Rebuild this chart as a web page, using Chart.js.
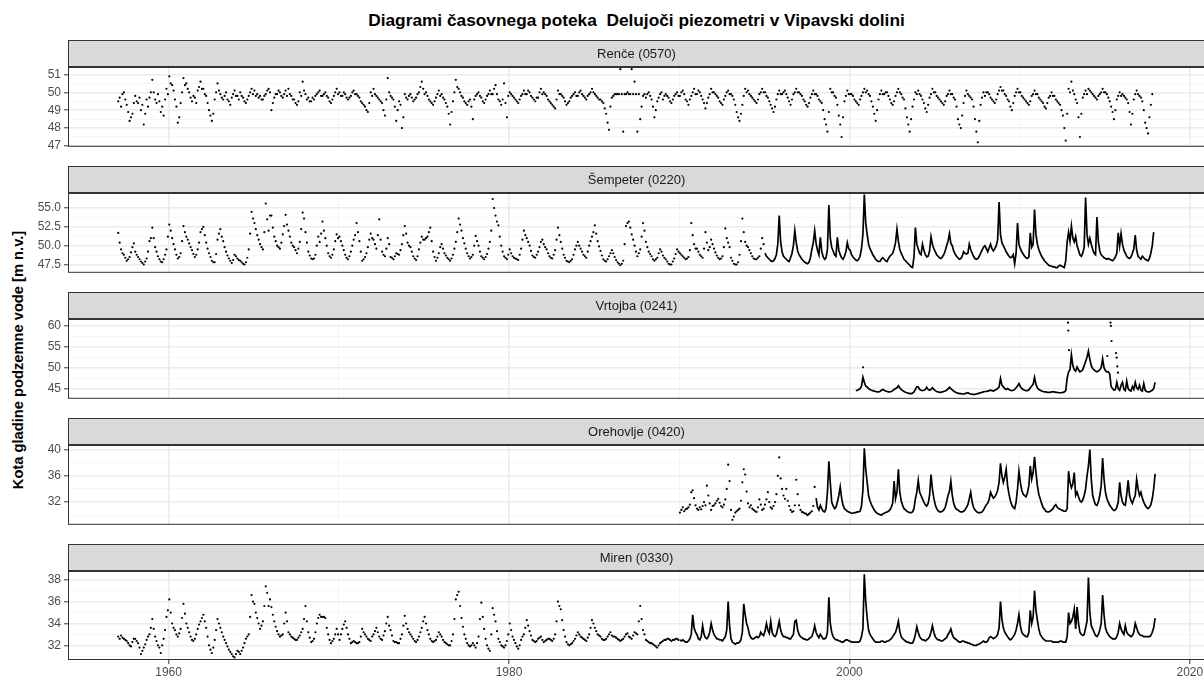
<!DOCTYPE html>
<html>
<head>
<meta charset="utf-8">
<script src="https://cdn.jsdelivr.net/npm/chart.js@4.4.0/dist/chart.umd.min.js"></script>
<style>
  html, body { margin: 0; padding: 0; background: #fff; overflow: hidden; }
  #page { position: relative; width: 1210px; height: 680px; font-family: "Liberation Sans", Arial, sans-serif; }
  #title { position: absolute; left: 68px; width: 1137px; top: 10px; line-height: 20px; text-align: center;
           font-weight: bold; font-size: 17.3px; color: #000; }
  #ylab { position: absolute; left: 18px; top: 360px; transform: translate(-50%, -50%) rotate(-90deg);
          white-space: nowrap; font-weight: bold; font-size: 14.7px; color: #000; }
  canvas { position: absolute; left: 0; }
</style>
</head>
<body>
<div id="page">
  <div id="title">Diagrami časovnega poteka&nbsp; Delujoči piezometri v Vipavski dolini</div>
  <div id="ylab">Kota gladine podzemne vode [m n.v.]</div>
</div>
<script>
// axis ticks (major); minor grid lines sit half way between them
const yearTicks = [1960, 1980, 2000, 2020];
const renceTicks = [47, 48, 49, 50, 51];
const sempeterTicks = [47.5, 50, 52.5, 55];
const vrtojbaTicks = [45, 50, 55, 60];
const orehovljeTicks = [32, 36, 40];
const mirenTicks = [32, 34, 36, 38];

// Renče: monthly readings 1957 - 2017 (drawn as points)
const renceLevels = [
  49.5, 49.7, 49.2, 49.9, 50.0, 49.6, 49.3, 48.9, 48.4, 48.6, 48.8, 49.4,
  49.8, 49.5, 49.4, 49.7, 49.0, 49.3, 48.2, 48.8, 49.6, 49.2, 49.7, 50.0,
  50.7, 50.0, 49.6, 49.4, 49.9, 49.5, 48.9, 49.2, 48.7, 49.6, 50.2, 49.9,
  50.9, 50.5, 50.4, 50.1, 49.6, 49.2, 48.3, 48.6, 49.4, 50.0, 50.8, 50.4,
  50.5, 50.2, 50.0, 49.7, 49.5, 49.8, 49.7, 49.4, 50.1, 50.3, 50.6, 50.2,
  50.2, 49.9, 49.8, 49.4, 49.0, 48.7, 48.4, 48.8, 49.6, 50.0, 50.5, 50.1,
  49.9, 49.7, 49.6, 49.8, 50.0, 49.6, 49.5, 49.3, 49.7, 49.9, 50.1, 49.8,
  49.8, 49.6, 50.0, 49.8, 49.7, 49.5, 49.4, 49.6, 49.8, 50.0, 50.2, 49.9,
  50.1, 49.8, 49.9, 49.7, 49.8, 49.6, 49.6, 49.8, 49.9, 50.1, 50.2, 50.0,
  49.0, 49.4, 49.7, 49.9, 49.9, 50.1, 50.0, 49.8, 49.7, 49.9, 50.1, 49.8,
  50.2, 49.9, 49.8, 49.6, 49.6, 49.4, 49.3, 49.5, 50.0, 49.8, 50.6, 50.1,
  49.9, 49.6, 49.7, 49.5, 49.5, 49.7, 49.6, 49.8, 49.9, 50.0, 50.1, 49.8,
  49.8, 49.9, 50.0, 49.8, 49.7, 49.5, 49.4, 49.6, 49.8, 50.0, 50.2, 49.9,
  50.0, 49.8, 49.8, 50.0, 49.9, 49.7, 49.6, 49.7, 49.8, 50.0, 50.1, 49.9,
  49.9, 49.8, 49.7, 49.5, 49.4, 49.3, 49.2, 49.0, 48.9, 49.4, 50.0, 49.8,
  50.2, 49.9, 49.8, 49.7, 49.6, 49.5, 49.4, 49.0, 48.7, 49.6, 50.8, 50.0,
  49.8, 49.7, 49.6, 49.2, 48.4, 49.0, 49.5, 49.3, 48.0, 48.6, 49.9, 49.7,
  49.6, 49.8, 49.9, 49.7, 49.5, 49.6, 49.7, 49.9, 50.0, 50.3, 50.6, 50.2,
  49.9, 50.0, 49.8, 49.6, 49.5, 49.4, 49.3, 49.5, 49.7, 49.9, 50.1, 49.8,
  49.9, 49.7, 49.6, 49.4, 49.2, 48.8, 48.2, 48.9, 49.5, 50.0, 50.7, 50.3,
  50.2, 50.0, 49.8, 49.7, 49.5, 49.4, 49.3, 49.5, 49.6, 49.2, 48.5, 49.6,
  49.8, 49.9, 50.0, 49.8, 49.7, 49.5, 49.4, 49.6, 49.8, 49.9, 50.1, 49.9,
  49.9, 50.2, 50.4, 49.9, 49.6, 49.5, 49.3, 49.6, 50.5, 49.4, 48.6, 49.8,
  50.0, 49.9, 49.8, 49.7, 49.6, 49.5, 49.4, 49.6, 49.8, 49.9, 50.1, 49.9,
  49.9, 50.1, 50.0, 49.8, 49.7, 49.6, 49.5, 49.7, 49.7, 50.0, 50.2, 49.9,
  50.0, 49.9, 49.8, 49.6, 49.5, 49.4, 49.3, 49.2, 49.1, 49.6, 50.1, 49.9,
  49.9, 49.8, 49.7, 49.5, 49.3, 49.4, 49.5, 49.7, 49.8, 49.9, 50.0, 49.8,
  49.8, 50.0, 50.1, 49.9, 49.8, 49.7, 49.6, 49.8, 49.9, 50.0, 50.2, 50.0,
  49.9, 49.8, 49.7, 49.6, 49.6, 49.5, 49.4, 49.1, 48.8, 48.3, 47.9, 49.2,
  49.7, 49.8, 49.9, 49.9, 49.9, 49.9, 51.3, 49.9, 47.8, 49.9, 49.9, 50.0,
  49.9, 49.9, 51.3, 49.9, 50.6, 49.9, 47.8, 49.9, 48.5, 49.2, 49.8, 49.9,
  49.7, 49.9, 50.0, 49.8, 49.6, 49.2, 48.6, 49.0, 49.5, 49.7, 49.9, 50.0,
  49.6, 49.8, 49.9, 49.8, 49.7, 49.5, 49.4, 49.6, 49.8, 49.9, 50.0, 49.8,
  49.8, 50.0, 50.1, 49.9, 49.6, 49.5, 49.3, 49.6, 49.8, 50.0, 50.2, 49.9,
  49.9, 50.1, 50.0, 49.8, 49.6, 49.4, 49.1, 49.4, 49.7, 49.9, 50.2, 50.0,
  50.0, 49.9, 49.8, 49.7, 49.5, 49.4, 49.3, 49.6, 49.8, 50.0, 50.1, 49.9,
  49.9, 49.8, 49.6, 49.3, 48.9, 48.6, 48.4, 48.8, 49.3, 49.8, 50.2, 50.0,
  50.1, 49.9, 49.8, 49.7, 49.6, 49.5, 49.4, 49.6, 49.9, 50.0, 50.2, 50.0,
  50.0, 49.8, 49.7, 49.5, 49.3, 49.1, 48.9, 49.2, 49.6, 49.9, 50.1, 49.9,
  49.9, 50.0, 50.1, 49.9, 49.7, 49.5, 49.3, 49.6, 49.9, 50.0, 50.2, 50.0,
  50.0, 49.9, 49.8, 49.6, 49.5, 49.3, 49.2, 49.4, 49.7, 49.9, 50.1, 49.9,
  49.9, 49.8, 49.6, 49.5, 49.4, 49.0, 48.5, 48.2, 47.8, 48.9, 50.2, 50.0,
  50.0, 49.8, 49.7, 49.3, 48.7, 48.2, 47.5, 48.6, 49.5, 49.8, 50.1, 49.9,
  49.9, 49.9, 49.8, 49.6, 49.5, 49.4, 49.3, 49.6, 49.8, 50.0, 50.2, 50.0,
  50.1, 49.9, 49.8, 49.5, 49.2, 48.8, 48.4, 49.0, 49.6, 49.9, 50.1, 49.9,
  49.9, 50.0, 50.0, 49.8, 49.6, 49.4, 49.3, 49.5, 49.8, 50.0, 50.2, 50.0,
  49.9, 49.7, 49.6, 49.1, 48.6, 48.2, 47.8, 48.5, 49.2, 49.6, 50.0, 49.9,
  50.1, 49.9, 49.8, 49.6, 49.4, 49.1, 48.9, 49.3, 49.7, 49.9, 50.2, 50.0,
  50.0, 49.8, 49.7, 49.6, 49.5, 49.4, 49.3, 49.5, 49.8, 49.9, 50.1, 49.9,
  49.9, 49.7, 49.6, 49.2, 48.5, 48.2, 48.0, 48.7, 49.4, 49.8, 50.1, 49.9,
  49.8, 49.7, 49.6, 49.2, 48.5, 47.8, 47.2, 48.4, 49.3, 49.7, 50.0, 49.8,
  50.0, 50.0, 49.9, 49.7, 49.6, 49.5, 49.4, 49.6, 49.9, 50.1, 50.3, 50.1,
  50.1, 49.9, 49.8, 49.6, 49.5, 49.2, 49.0, 49.4, 49.8, 50.0, 50.2, 50.0,
  50.0, 49.8, 49.7, 49.6, 49.5, 49.4, 49.3, 49.5, 49.8, 49.9, 50.1, 49.9,
  49.9, 49.7, 49.6, 49.5, 49.4, 49.2, 49.1, 49.4, 49.7, 49.8, 50.0, 49.8,
  49.8, 49.6, 49.5, 49.4, 49.3, 49.0, 48.7, 48.0, 47.3, 48.8, 50.2, 50.0,
  50.6, 50.1, 49.9, 49.6, 49.4, 48.6, 47.5, 48.8, 49.7, 49.9, 50.1, 49.9,
  50.2, 50.1, 50.0, 49.9, 49.8, 49.7, 49.6, 49.8, 49.9, 50.0, 50.2, 50.0,
  50.0, 49.9, 49.7, 49.5, 49.2, 48.9, 48.5, 49.0, 49.6, 49.8, 50.0, 49.8,
  49.9, 49.8, 49.7, 49.6, 49.4, 48.9, 48.2, 48.8, 49.6, 49.9, 50.1, 49.9,
  49.8, 49.7, 49.5, 49.0, 48.3, 48.0, 47.7, 48.6, 49.3, 49.9
];

// Šempeter: monthly, scattered 1957 - 1994, continuous 1995 - 2017
const sempeterDotLevels = [
  51.7, 50.4, 49.5, 49.0, 48.8, 48.4, 48.0, 48.2, 48.5, 49.1, 49.8, 50.3,
  49.2, 48.8, 48.5, 48.2, 47.9, 47.7, 47.5, 47.9, 48.3, 49.2, 50.6, 51.0,
  52.4, 51.0, 49.8, 49.2, 48.6, 48.2, 47.9, 47.8, 48.2, 48.8, 49.5, 51.2,
  52.8, 52.0, 51.0, 50.2, 49.5, 48.8, 48.3, 48.5, 49.0, 50.6, 52.6, 51.8,
  51.2, 50.8, 50.3, 49.8, 49.4, 48.9, 48.5, 48.8, 49.5, 50.4, 51.8, 52.2,
  52.5, 51.4, 50.4, 49.6, 49.0, 48.5, 48.0, 47.8, 47.8, 48.9, 50.8, 51.6,
  52.2, 51.2, 50.6, 49.8, 49.2, 48.7, 48.3, 48.0, 47.7, 48.1, 48.8, 48.6,
  48.3, 48.1, 48.0, 47.8, 47.6, 47.5, 47.8, 48.4, 49.5, 51.6, 54.5, 53.6,
  53.0, 52.2, 51.4, 50.8, 50.2, 49.8, 49.5, 51.8, 55.6, 53.5, 52.0, 54.0,
  54.0, 52.4, 51.2, 50.6, 50.0, 49.8, 49.6, 50.4, 51.5, 52.6, 54.1, 52.8,
  52.0, 51.2, 50.4, 50.0, 49.8, 49.4, 49.0, 49.6, 50.5, 52.2, 54.4, 53.6,
  51.8, 50.4, 49.2, 48.7, 48.3, 48.2, 48.3, 48.8, 50.0, 51.2, 50.5, 51.6,
  53.2, 52.0, 51.0, 50.0, 49.0, 48.6, 48.4, 48.8, 49.5, 50.6, 51.5, 51.0,
  51.2, 50.6, 50.0, 49.4, 48.8, 48.4, 48.2, 48.6, 49.2, 50.0, 50.8, 51.4,
  53.0, 51.8, 50.6, 49.2, 48.0, 48.2, 48.5, 49.0, 49.8, 50.8, 51.6, 51.0,
  50.8, 50.2, 49.6, 51.4, 53.5, 50.8, 49.2, 48.8, 48.6, 49.6, 51.0, 50.2,
  48.5, 48.4, 48.2, 48.6, 49.0, 48.9, 48.8, 49.4, 50.2, 51.4, 52.6, 51.6,
  50.4, 50.0, 49.8, 49.2, 48.6, 48.3, 48.1, 48.6, 49.5, 50.4, 51.2, 50.8,
  50.8, 51.0, 51.2, 51.8, 52.4, 50.6, 49.2, 48.5, 48.0, 48.4, 49.0, 49.8,
  50.2, 49.6, 49.0, 48.7, 48.4, 48.2, 48.0, 48.3, 48.8, 49.6, 50.5, 51.8,
  53.6, 52.8, 52.0, 51.0, 50.3, 49.6, 49.0, 48.6, 48.3, 48.5, 48.8, 50.0,
  51.3, 50.6, 50.0, 49.2, 48.6, 48.4, 48.2, 48.5, 48.9, 49.6, 50.5, 52.0,
  56.2, 55.0, 54.0, 53.2, 52.7, 51.2, 50.0, 49.2, 48.6, 48.4, 48.2, 48.8,
  49.5, 49.0, 48.6, 48.4, 48.3, 48.2, 48.1, 48.8, 49.6, 50.8, 52.0, 51.4,
  51.0, 50.5, 50.0, 49.3, 48.7, 48.5, 48.4, 48.8, 49.2, 49.8, 50.5, 50.8,
  50.2, 49.8, 49.5, 49.0, 48.6, 48.4, 48.3, 48.8, 49.4, 50.8, 52.4, 51.4,
  50.5, 49.6, 48.8, 48.4, 48.0, 47.9, 47.8, 48.0, 48.2, 48.8, 49.5, 50.0,
  50.5, 50.0, 49.6, 49.2, 48.8, 48.6, 48.4, 49.2, 50.0, 50.6, 51.2, 51.8,
  52.7, 51.6, 50.6, 49.9, 49.3, 48.7, 48.2, 48.0, 47.9, 48.2, 48.6, 49.0,
  49.4, 49.0, 48.5, 48.1, 47.8, 47.6, 47.4, 47.6, 48.0, 50.2, 52.6, 53.0,
  53.2, 52.4, 51.5, 50.8, 50.0, 49.2, 48.6, 49.0, 49.5, 51.2, 53.0, 52.0,
  50.5, 49.8, 49.2, 48.9, 48.6, 48.2, 48.0, 48.2, 48.4, 49.0, 49.5, 49.2,
  48.7, 48.4, 48.2, 47.9, 47.6, 47.5, 47.5, 47.9, 48.3, 48.9, 49.5, 49.2,
  49.0, 48.8, 48.6, 48.4, 48.2, 48.3, 48.5, 49.4, 53.0, 51.4, 50.2, 49.6,
  49.6, 49.2, 48.8, 48.6, 48.4, 49.6, 51.8, 50.4, 49.4, 49.8, 50.8, 50.2,
  49.6, 49.1, 48.7, 48.4, 48.2, 48.3, 48.6, 49.8, 52.3, 51.0, 50.4, 49.8,
  48.4, 48.0, 47.6, 47.5, 47.5, 47.8, 48.8, 50.6, 53.6, 51.8, 50.5, 50.0,
  49.8, 49.4, 49.0, 48.6, 48.3, 48.2, 48.2, 48.4, 48.6, 49.6, 51.0, 50.2
];
const sempeterLineLevels = [
  49.0, 48.6, 48.4, 48.2, 48.0, 47.9, 48.0, 48.3, 48.8, 50.2, 54.0, 50.5,
  49.2, 48.6, 48.4, 48.2, 48.0, 47.9, 48.4, 49.0, 50.0, 52.0, 50.4, 49.3,
  48.8, 48.5, 48.2, 48.0, 47.8, 47.7, 47.6, 47.8, 48.4, 49.5, 50.4, 52.0,
  50.3, 49.4, 48.8, 51.1, 49.2, 48.5, 48.2, 48.4, 49.5, 55.4, 51.0, 49.8,
  49.3, 48.8, 48.6, 51.1, 49.4, 48.8, 48.4, 48.2, 48.6, 49.2, 50.4, 49.6,
  49.4, 48.8, 48.5, 48.3, 48.1, 48.0, 48.2, 48.6, 49.6, 51.5, 56.8, 53.0,
  51.5, 50.2, 49.6, 49.2, 48.8, 48.5, 48.2, 48.0, 47.9, 47.9, 48.2, 48.4,
  48.2, 48.0, 47.9, 48.3, 48.6, 48.8, 49.0, 49.6, 50.4, 52.2, 50.6, 49.5,
  49.0, 48.6, 48.2, 48.0, 47.8, 47.6, 47.4, 47.2, 47.1, 48.5, 52.4, 50.2,
  49.6, 49.0, 48.8, 50.2, 49.4, 48.8, 48.5, 48.6, 49.3, 51.2, 50.2, 49.6,
  49.2, 48.8, 48.6, 48.4, 48.3, 48.5, 48.8, 49.3, 50.0, 50.6, 51.6, 50.3,
  50.0, 49.3, 48.9, 48.6, 48.4, 48.2, 48.3, 48.6, 49.2, 49.0, 48.9, 49.0,
  50.2, 49.5, 49.0, 48.6, 48.3, 48.2, 48.3, 48.6, 49.0, 49.4, 49.8, 50.0,
  49.6, 49.2, 49.7, 50.2, 49.6, 49.3, 49.6, 50.0, 50.8, 55.8, 51.5, 50.4,
  50.0, 49.6, 49.2, 48.9, 48.6, 48.4, 48.5, 48.8, 47.6, 49.0, 53.0, 50.2,
  49.6, 49.2, 48.9, 48.6, 48.4, 48.3, 48.5, 51.7, 49.8, 50.2, 54.8, 51.5,
  50.2, 49.5, 49.0, 48.6, 48.3, 48.0, 47.8, 47.6, 47.4, 47.3, 47.3, 47.2,
  47.2, 47.1, 47.1, 47.3, 47.4, 47.3, 47.2, 47.1, 48.0, 50.5, 51.8, 50.6,
  52.6, 51.0, 50.5, 51.2, 50.0, 49.4, 48.8, 48.6, 49.0, 49.8, 56.4, 51.5,
  50.2, 51.0, 50.2, 49.5, 49.0, 48.8, 53.8, 50.5, 49.3, 48.8, 48.6, 48.4,
  48.3, 48.2, 48.3, 48.2, 48.1, 48.0, 48.2, 48.5, 49.0, 51.7, 50.0, 51.6,
  50.2, 49.4, 49.0, 48.6, 48.4, 48.3, 48.5, 49.0, 49.6, 51.4, 49.4, 48.6,
  48.4, 48.2, 48.6, 48.4, 48.2, 48.1, 48.0, 48.3, 49.0, 50.0, 51.8
];

// Vrtojba: monthly 2000 - 2017, plus isolated high readings
const vrtojbaLevels = [
  null, null, null, null, 44.5, 44.6, 44.8, 45.0, 45.5, 47.7, 46.5, 45.6,
  45.4, 45.0, 44.8, 44.6, 44.5, 44.4, 44.3, 44.2, 44.2, 44.3, 44.6, 44.8,
  44.6, 44.4, 44.3, 44.2, 44.2, 44.3, 44.5, 44.8, 45.0, 45.2, 45.7, 45.2,
  44.8, 44.5, 44.3, 44.1, 44.0, 43.9, 43.8, 43.8, 43.9, 44.2, 44.8, 45.4,
  45.4, 44.8, 44.6, 44.5, 44.6, 44.8, 45.3, 44.8, 44.6, 44.8, 45.2, 44.8,
  44.5, 44.3, 44.2, 44.1, 44.1, 44.2, 44.3, 44.4, 44.6, 44.9, 45.3, 45.0,
  44.7, 44.4, 44.2, 44.0, 43.9, 43.8, 43.8, 43.7, 43.7, 43.8, 43.9, 44.0,
  43.8, 43.7, 43.6, 43.6, 43.6, 43.7, 43.8, 43.9, 44.0, 44.1, 44.2, 44.3,
  44.3, 44.4, 44.5, 44.6, 44.5, 44.4, 44.6, 44.8, 45.0, 45.4, 47.4, 45.8,
  45.4, 45.0, 44.8, 45.0, 44.8, 44.6, 44.5, 44.6, 44.8, 45.2, 45.6, 46.2,
  45.5, 45.0, 44.8, 44.6, 44.5, 44.5, 44.7, 45.2, 45.6, 46.0, 47.7, 46.0,
  45.2, 44.8, 44.6, 44.4, 44.3, 44.2, 44.2, 44.1, 44.1, 44.1, 44.2, 44.2,
  44.2, 44.1, 44.1, 44.0, 44.0, 44.0, 44.1, 44.2, 44.5, 47.5, 49.0, 49.5,
  53.1, 50.5, 49.5, 49.2, 50.2, 49.5, 49.0, 49.2, 49.5, 50.5, 51.5, 52.5,
  54.0, 52.0, 50.5, 49.8, 49.5, 49.2, 49.0, 49.2, 49.5, 50.0, 52.1, 50.0,
  49.3, 49.0, 49.0, 48.5, 45.5, 45.0, 44.6, 44.8, 46.5, 45.0, 44.6, 45.8,
  46.5, 44.8, 44.5, 46.8, 45.0, 44.6, 44.4, 45.5, 44.8, 46.5, 45.2, 44.8,
  45.8, 44.6, 44.4, 46.2, 44.6, 44.3, 44.2, 44.2, 44.4, 44.6, 45.0, 46.5
];
const vrtojbaSpikeYears = [2000.80, 2012.84, 2012.86, 2012.90, 2015.15, 2015.34, 2015.36, 2015.40, 2015.66, 2015.70, 2015.74, 2015.78];
const vrtojbaSpikeLevels = [50.1, 60.8, 58.9, 54.2, 52.8, 60.8, 60.0, 56.4, 53.5, 52.4, 50.3, 48.8];

// Orehovlje: monthly, scattered 1990 - 1997, continuous 1998 - 2017
const orehovljeDotLevels = [
  30.4, 30.8, 31.2, 30.6, 30.9, 31.0, 31.2, 31.6, 33.5, 33.8, 32.6, 31.5,
  31.0, 30.8, 31.2, 30.9, 31.4, 32.0, 31.5, 34.5, 33.0, 31.8, 30.8, 31.4,
  31.5, 31.8, 32.2, 32.5, 31.9, 31.4, 31.2, 31.6, 32.4, 34.0, 37.7, 35.2,
  30.8, 29.3, 29.8, 30.4, 30.6, 30.8, 31.0, 32.2, 35.0, 37.0, 36.2, 33.6,
  31.8, 31.2, 31.5, 31.0, 30.8, 30.6, 30.5, 31.2, 32.4, 31.6, 30.8, 31.0,
  31.6, 32.4, 33.5, 32.0, 31.2, 31.0, 31.4, 32.0, 33.2, 36.0, 38.8, 35.6,
  34.0, 33.0, 32.5, 34.0, 32.2, 31.4, 30.8, 30.5, 30.6, 31.5, 35.4, 33.2,
  31.5, 30.8, 30.5, 30.4, 30.3, 30.2, 30.0, 30.2, 30.4, 30.6, 31.4, 34.3
];
const orehovljeLineLevels = [
  32.6, 31.2, 30.8, 31.5, 31.0, 30.6, 30.5, 31.0, 33.5, 38.2, 35.0, 32.0,
  31.4, 31.0, 31.2, 32.0, 33.0, 34.3, 32.6, 31.5, 31.0, 30.8, 30.6, 30.5,
  30.4, 30.3, 30.3, 30.4, 30.4, 30.5, 30.5, 30.6, 31.4, 33.8, 40.2, 37.0,
  35.0, 33.0, 32.2, 31.6, 31.2, 30.8, 30.5, 30.3, 30.2, 30.1, 30.0, 30.2,
  30.3, 30.4, 30.5, 30.6, 30.8, 31.2, 31.8, 35.2, 32.5, 33.5, 37.0, 33.5,
  32.2, 31.5, 31.0, 30.8, 30.6, 30.5, 30.4, 30.4, 30.5, 31.0, 32.5, 33.5,
  35.3, 33.5, 33.0, 32.5, 32.0, 31.6, 31.4, 31.8, 33.0, 36.2, 34.0, 32.6,
  31.6, 31.0, 30.7, 30.5, 30.5, 30.6, 30.8, 31.2, 32.0, 33.0, 33.6, 35.2,
  33.0, 31.8, 31.2, 30.9, 30.8, 30.6, 30.5, 30.5, 30.6, 30.8, 31.2, 31.6,
  32.5, 33.5, 32.0, 31.2, 30.8, 30.6, 30.4, 30.4, 30.4, 30.5, 30.8, 31.2,
  31.6, 31.8, 32.4, 33.5, 33.0, 32.6, 32.8, 33.2, 33.8, 35.0, 37.9, 36.0,
  35.0, 35.8, 37.0, 34.5, 33.2, 32.2, 31.5, 31.2, 31.0, 32.0, 34.0, 36.7,
  35.0, 33.8, 33.2, 33.0, 32.8, 33.4, 34.5, 37.5, 35.5, 36.5, 38.9, 36.5,
  34.5, 33.2, 32.5, 31.8, 31.2, 30.9, 30.6, 30.5, 30.5, 30.6, 30.8, 31.0,
  31.4, 31.6, 31.2, 31.0, 30.9, 30.8, 30.7, 30.6, 30.6, 31.0, 36.7, 35.0,
  34.2, 34.8, 36.5, 33.0, 33.5, 32.8, 32.2, 32.0, 32.3, 33.0, 34.0, 36.0,
  37.5, 40.0, 35.5, 33.0, 32.2, 31.6, 31.5, 32.0, 33.0, 34.5, 38.7, 35.5,
  33.5, 32.5, 32.0, 31.5, 31.2, 30.9, 30.7, 30.8, 31.2, 32.0, 35.0, 33.0,
  32.0, 31.6, 31.5, 33.2, 35.3, 33.0, 32.2, 31.8, 32.5, 33.0, 35.5, 34.0,
  33.0, 33.5, 32.6, 32.0, 31.5, 31.2, 31.0, 31.2, 31.6, 32.5, 34.0, 36.3
];

// Miren: monthly, scattered 1957 - 1989, continuous 1990 - 2017
const mirenDotLevels = [
  32.8, 32.6, 32.9, 32.7, 32.6, 32.5, 32.4, 32.2, 32.0, 31.9, 32.3, 32.6,
  32.6, 32.4, 32.2, 31.8, 31.2, 31.5, 31.8, 32.1, 32.5, 32.8, 33.0, 33.6,
  34.4, 33.5, 32.8, 32.4, 32.0, 31.8, 31.3, 32.0, 32.6, 33.4, 34.6, 35.2,
  36.2, 35.0, 34.0, 33.6, 33.4, 33.0, 32.8, 33.1, 33.5, 34.5, 35.8, 34.9,
  34.0, 33.6, 33.2, 32.8, 32.5, 32.4, 32.6, 33.0, 33.5, 33.9, 34.2, 34.5,
  34.8, 34.2, 33.6, 32.8, 32.0, 31.6, 31.3, 31.8, 32.5, 33.4, 34.4, 34.0,
  33.6, 33.2, 32.8, 32.5, 32.2, 31.9, 31.6, 31.4, 31.2, 31.0, 30.9, 31.2,
  31.5, 31.4, 31.2, 31.5, 31.8, 32.2, 32.6, 32.8, 33.0, 34.6, 36.6, 36.0,
  35.8, 35.0, 34.5, 34.0, 33.5, 33.8, 34.2, 35.6, 37.4, 36.8, 35.6, 36.2,
  35.5, 34.8, 34.2, 33.7, 33.3, 33.0, 32.8, 32.9, 33.0, 34.0, 35.0, 34.2,
  33.2, 33.0, 32.8, 32.7, 32.6, 32.5, 32.5, 32.7, 32.9, 33.2, 33.5, 34.4,
  35.6, 34.2, 33.2, 32.7, 32.3, 32.4, 32.6, 33.2, 34.0, 34.5, 34.8, 34.6,
  34.6, 34.6, 34.5, 33.6, 33.0, 32.5, 32.2, 32.4, 32.6, 33.0, 33.5, 33.0,
  32.5, 33.0, 33.5, 33.9, 34.2, 33.6, 33.0, 32.6, 32.2, 32.3, 32.4, 32.3,
  32.2, 32.2, 32.3, 32.8, 33.5, 33.2, 33.0, 32.8, 32.6, 32.5, 32.4, 32.8,
  33.0, 33.3, 33.6, 33.2, 32.8, 32.6, 32.5, 32.9, 33.3, 34.0, 34.6, 33.8,
  33.4, 32.9, 32.4, 32.3, 32.3, 32.2, 32.2, 32.6, 33.0, 33.8, 34.7, 34.0,
  33.5, 33.2, 33.0, 32.8, 32.6, 32.4, 32.3, 32.5, 32.8, 33.2, 33.6, 34.2,
  34.6, 34.0, 33.4, 33.0, 32.6, 32.4, 32.3, 32.4, 32.5, 32.8, 33.2, 33.0,
  32.8, 32.5, 32.3, 32.2, 32.1, 32.0, 32.0, 32.4, 33.0, 34.4, 36.2, 36.6,
  36.9, 35.6, 34.5, 33.7, 33.0, 32.6, 32.2, 32.0, 31.9, 32.0, 32.2, 32.0,
  31.8, 32.2, 32.8, 34.4, 35.9, 34.6, 33.5, 32.6, 32.0, 31.7, 31.5, 33.0,
  35.4, 34.8, 34.2, 33.3, 32.6, 32.3, 32.0, 31.9, 31.8, 32.0, 32.4, 33.0,
  34.0, 33.4, 32.8, 32.5, 32.2, 31.9, 31.7, 32.0, 32.5, 32.8, 33.0, 33.6,
  34.3, 33.8, 33.3, 32.9, 32.5, 32.4, 32.3, 32.4, 32.6, 32.7, 32.8, 32.5,
  32.3, 32.4, 32.5, 32.6, 32.6, 32.5, 32.4, 32.6, 33.0, 34.2, 36.0, 35.6,
  35.3, 34.3, 33.4, 32.8, 32.3, 32.1, 32.0, 32.1, 32.2, 32.4, 32.6, 32.9,
  33.2, 33.0, 32.8, 32.7, 32.6, 32.5, 32.4, 32.7, 33.0, 33.6, 34.3, 34.0,
  33.6, 33.3, 33.0, 32.9, 32.8, 32.6, 32.5, 32.5, 32.6, 32.8, 33.0, 33.2,
  32.9, 32.8, 32.8, 32.7, 32.6, 32.5, 32.4, 32.5, 32.6, 32.8, 33.0, 33.1,
  32.8, 32.7, 32.6, 32.9, 33.2, 33.1, 33.0, 34.2, 35.6, 34.4, 33.4, 33.0,
  32.5, 32.4, 32.3, 32.2, 32.2, 32.1, 32.0, 31.9, 31.8, 32.0, 32.2, 32.3,
  32.4, 32.5, 32.5, 32.6, 32.6, 32.5, 32.4, 32.5, 32.5, 32.6, 32.6, 32.5
];
const mirenLineLevels = [
  32.5, 32.4, 32.5, 32.4, 32.3, 32.3, 32.4, 32.6, 33.0, 34.8, 33.6, 33.2,
  33.0, 32.6, 32.5, 32.8, 33.8, 33.0, 32.7, 32.6, 32.8, 33.2, 34.0, 33.4,
  33.0, 32.8, 32.6, 32.6, 32.5, 32.5, 32.4, 32.6, 32.8, 33.4, 36.0, 33.8,
  32.6, 32.3, 32.2, 32.1, 32.2, 32.2, 32.3, 32.5, 33.2, 35.8, 34.8, 34.0,
  33.6, 33.0, 32.7, 32.6, 32.6, 32.7, 32.8, 32.7, 32.8, 33.2, 33.0, 32.9,
  33.3, 34.0, 33.4, 33.1, 34.2, 33.2, 32.9, 32.8, 33.0, 33.6, 34.2, 33.4,
  33.0, 32.8, 32.8, 32.7, 32.7, 32.6, 32.6, 32.8, 33.0, 34.2, 34.3, 33.4,
  33.0, 32.8, 32.7, 32.6, 32.6, 32.5, 32.5, 32.6, 32.7, 32.8, 33.2, 33.8,
  33.2, 32.9, 32.7, 33.0, 32.8, 32.6, 32.6, 32.7, 33.2, 36.4, 34.0, 33.2,
  32.8, 32.6, 32.5, 32.5, 32.4, 32.4, 32.3, 32.3, 32.4, 32.5, 32.5, 32.4,
  32.4, 32.3, 32.3, 32.3, 32.3, 32.3, 32.3, 32.4, 32.8, 33.5, 38.5, 36.0,
  34.5, 33.4, 33.0, 32.8, 32.6, 32.4, 32.3, 32.3, 32.3, 32.3, 32.4, 32.4,
  32.3, 32.3, 32.4, 32.4, 32.5, 32.6, 32.8, 33.0, 33.2, 33.6, 34.2, 33.3,
  32.8, 32.6, 32.5, 32.4, 32.3, 32.3, 32.2, 32.2, 32.2, 32.5, 33.0, 33.7,
  33.2, 32.8, 32.6, 32.5, 32.5, 32.4, 32.5, 32.6, 32.8, 33.2, 33.8, 33.2,
  32.8, 32.6, 32.5, 32.5, 32.4, 32.4, 32.5, 32.6, 32.7, 33.0, 33.2, 33.5,
  33.0, 32.7, 32.6, 32.5, 32.4, 32.3, 32.3, 32.4, 32.4, 32.3, 32.3, 32.2,
  32.2, 32.1, 32.1, 32.0, 32.0, 32.0, 32.1, 32.1, 32.2, 32.3, 32.4, 32.3,
  32.3, 32.4, 32.7, 32.8, 32.7, 32.6, 32.7, 32.8, 33.0, 33.6, 36.0, 34.4,
  33.6, 33.2, 33.0, 32.8, 32.6, 32.5, 32.6, 32.8, 33.0, 33.4, 34.0, 34.8,
  33.8, 33.2, 33.0, 32.9, 32.8, 32.8, 33.2, 35.2, 34.0, 34.6, 37.0, 35.2,
  34.3, 33.5, 33.0, 32.8, 32.6, 32.5, 32.4, 32.4, 32.4, 32.4, 32.4, 32.3,
  32.3, 32.3, 32.3, 32.3, 32.4, 32.4, 32.3, 32.3, 32.3, 32.8, 35.0, 34.0,
  34.2, 34.6, 35.3, 33.5, 35.5, 34.0, 33.2, 33.0, 32.9, 33.0, 33.6, 34.2,
  38.2, 35.0, 33.8, 33.5, 33.2, 32.9, 32.8, 33.0, 33.4, 34.0, 36.6, 34.8,
  33.6, 33.2, 33.0, 32.8, 32.7, 32.6, 32.6, 32.6, 32.8, 33.2, 34.0, 33.5,
  33.2, 33.0, 33.8, 33.2, 33.0, 32.9, 32.8, 32.9, 33.2, 34.0, 33.6, 33.2,
  33.0, 32.9, 32.9, 32.8, 32.8, 32.8, 32.8, 32.8, 32.9, 33.2, 33.6, 34.5
];

const xMin = 1954.09;
const xMax = 2020.89;
const axisText = '#4D4D4D';

Chart.defaults.font.family = '"Liberation Sans", Arial, sans-serif';

// readings taken at regular intervals inside each year
function points(firstYear, perYear, levels) {
  return levels.map((v, i) => ({ x: firstYear + (i + 0.5) / perYear, y: v }));
}
function pairs(years, levels) {
  return years.map((x, i) => ({ x: x, y: levels[i] }));
}
function dots(data) {
  return { data: data, showLine: false, pointRadius: 1.1, pointBackgroundColor: '#000', pointBorderWidth: 0 };
}
function trace(data) {
  return { data: data, showLine: true, borderColor: '#000', borderWidth: 1.7, pointRadius: 0, spanGaps: false };
}

// majors plus the half-way minors, kept inside the axis range
function gridTicks(majors, min, max) {
  const half = (majors[1] - majors[0]) / 2;
  const out = [];
  for (let v = majors[0] - half; v <= max + 1e-9; v += half) {
    if (v >= min) out.push(+v.toFixed(4));
  }
  return out;
}
function isMajor(v, majors) {
  return majors.some(m => Math.abs(m - v) < 1e-6);
}

const facetStrip = {
  id: 'facetStrip',
  afterDraw(chart, args, opts) {
    const { ctx, chartArea: a } = chart;
    const w = a.right - a.left;
    ctx.save();
    ctx.fillStyle = '#D9D9D9';
    ctx.fillRect(a.left, 0, w, a.top);
    ctx.strokeStyle = '#333333';
    ctx.lineWidth = 1;
    ctx.strokeRect(a.left + 0.5, 0.5, w, a.top - 1);
    ctx.strokeRect(a.left + 0.5, a.top + 0.5, w, a.bottom - a.top - 1);
    ctx.fillStyle = '#1A1A1A';
    ctx.font = '13px "Liberation Sans", Arial, sans-serif';
    ctx.textAlign = 'center';
    ctx.textBaseline = 'middle';
    ctx.fillText(opts.label, (a.left + a.right) / 2, a.top / 2 + 0.5);
    ctx.restore();
  }
};

const stations = [
  { label: 'Renče (0570)', min: 46.95, max: 51.42, ticks: renceTicks, decimals: 0,
    datasets: [dots(points(1957, 12, renceLevels))] },
  { label: 'Šempeter (0220)', min: 46.4, max: 57.0, ticks: sempeterTicks, decimals: 1,
    datasets: [dots(points(1957, 12, sempeterDotLevels)), trace(points(1995, 12, sempeterLineLevels))] },
  { label: 'Vrtojba (0241)', min: 42.55, max: 61.67, ticks: vrtojbaTicks, decimals: 0,
    datasets: [trace(points(2000, 12, vrtojbaLevels)), dots(pairs(vrtojbaSpikeYears, vrtojbaSpikeLevels))] },
  { label: 'Orehovlje (0420)', min: 28.54, max: 40.69, ticks: orehovljeTicks, decimals: 0,
    datasets: [dots(points(1990, 12, orehovljeDotLevels)), trace(points(1998, 12, orehovljeLineLevels))] },
  { label: 'Miren (0330)', min: 30.66, max: 38.8, ticks: mirenTicks, decimals: 0,
    datasets: [dots(points(1957, 12, mirenDotLevels)), trace(points(1990, 12, mirenLineLevels))] }
];

const page = document.getElementById('page');
const xAll = gridTicks(yearTicks, xMin, xMax);

stations.forEach((st, k) => {
  const last = k === stations.length - 1;
  const canvas = document.createElement('canvas');
  canvas.width = 1210;
  canvas.height = last ? 136 : 117;
  canvas.style.top = (40 + k * 126) + 'px';
  page.appendChild(canvas);
  const yAll = gridTicks(st.ticks, st.min, st.max);
  const tickValue = ctx => (ctx.tick ? ctx.tick.value : NaN);

  new Chart(canvas.getContext('2d'), {
    type: 'scatter',
    data: { datasets: st.datasets },
    options: {
      responsive: false,
      animation: false,
      events: [],
      layout: { padding: { top: 27, right: 5, bottom: last ? 0 : 1, left: 0 } },
      plugins: {
        legend: { display: false },
        tooltip: { enabled: false },
        facetStrip: { label: st.label }
      },
      scales: {
        x: {
          type: 'linear',
          min: xMin,
          max: xMax,
          afterBuildTicks: s => { s.ticks = xAll.map(v => ({ value: v })); },
          afterFit: s => { s.height = last ? 20 : 0; },
          ticks: {
            display: last,
            autoSkip: false,
            maxRotation: 0,
            padding: 1,
            color: axisText,
            font: { size: 12 },
            callback: v => (isMajor(v, yearTicks) ? String(v) : '')
          },
          grid: {
            color: ctx => (isMajor(tickValue(ctx), yearTicks) ? '#EBEBEB' : '#F2F2F2'),
            lineWidth: ctx => (isMajor(tickValue(ctx), yearTicks) ? 1.6 : 0.8),
            drawTicks: last,
            tickLength: 4,
            tickWidth: 1,
            tickColor: ctx => (isMajor(tickValue(ctx), yearTicks) ? '#333333' : 'rgba(0,0,0,0)')
          },
          border: { display: false }
        },
        y: {
          type: 'linear',
          min: st.min,
          max: st.max,
          afterBuildTicks: s => { s.ticks = yAll.map(v => ({ value: v })); },
          afterFit: s => { s.width = 68; },
          ticks: {
            autoSkip: false,
            padding: 3,
            color: axisText,
            font: { size: 12 },
            callback: v => (isMajor(v, st.ticks) ? v.toFixed(st.decimals) : '')
          },
          grid: {
            color: ctx => (isMajor(tickValue(ctx), st.ticks) ? '#EBEBEB' : '#F2F2F2'),
            lineWidth: ctx => (isMajor(tickValue(ctx), st.ticks) ? 1.6 : 0.8),
            tickLength: 4,
            tickWidth: 1,
            tickColor: ctx => (isMajor(tickValue(ctx), st.ticks) ? '#333333' : 'rgba(0,0,0,0)')
          },
          border: { display: false }
        }
      }
    },
    plugins: [facetStrip]
  });
});
</script>
</body>
</html>
